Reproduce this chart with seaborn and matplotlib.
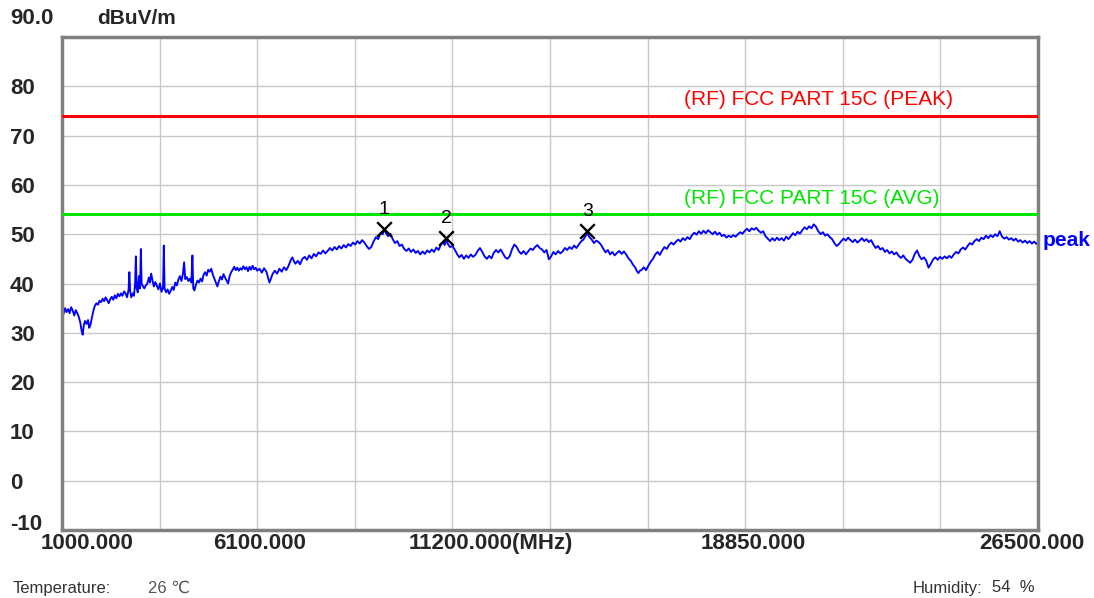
import numpy as np
import pandas as pd
import matplotlib
matplotlib.use("Agg")
import matplotlib.pyplot as plt
import matplotlib.transforms as mtransforms
import seaborn as sns

# --- peak trace (MHz / dBuV/m) ---
freq_a = [1000, 1040, 1080, 1120, 1160, 1200, 1240, 1280, 1320, 1360,
          1400, 1440, 1480, 1510, 1540, 1570, 1600, 1640, 1680, 1710,
          1740, 1780, 1820, 1860, 1900, 1940, 1980, 2020, 2060, 2100,
          2140, 2180, 2220, 2260, 2300, 2340, 2380, 2420, 2460, 2500,
          2540, 2580, 2620, 2660, 2700, 2740, 2760, 2780, 2810, 2850,
          2880, 2910, 2930, 2950, 2980, 3010, 3040, 3060, 3080, 3110,
          3150, 3190, 3230, 3270, 3300, 3330, 3360, 3400, 3440, 3480,
          3520, 3560, 3600, 3640, 3660, 3680, 3720, 3760, 3800, 3840,
          3880, 3920, 3960, 4000, 4040, 4080, 4120, 4160, 4190, 4220,
          4260, 4300, 4340, 4380, 4407, 4430, 4460, 4500, 4540, 4580,
          4620, 4660, 4700, 4740, 4780, 4820, 4860, 4900, 4940, 4980,
          5020, 5060, 5100, 5140, 5180, 5220, 5260, 5300, 5340, 5380,
          5420, 5460, 5500, 5540, 5580, 5620, 5660, 5700, 5740, 5780,
          5820, 5860, 5900, 5940, 5980, 6020, 6060]
level_a = [34.5, 33.8, 35.0, 34.2, 34.8, 34.0, 35.2, 34.5, 33.5, 34.6,
           34.0, 33.2, 32.0, 30.5, 29.6, 31.5, 32.4, 31.8, 32.6, 31.0,
           31.5, 33.0, 34.5, 35.5, 36.0, 35.7, 36.5, 36.2, 36.9, 36.4,
           37.2, 36.6, 36.0, 36.8, 37.3, 36.7, 37.6, 37.0, 37.9, 37.4,
           38.0, 37.5, 38.4, 38.0, 37.2, 38.8, 42.3, 38.5, 37.2, 38.0,
           37.5, 40.0, 45.5, 39.0, 38.2, 41.5, 39.0, 47.0, 40.0, 39.5,
           39.0, 39.6, 40.0, 41.2, 40.2, 42.0, 40.8, 39.4, 40.3, 39.5,
           38.8, 40.0, 38.3, 39.2, 47.7, 39.0, 38.2, 38.8, 37.9, 38.5,
           39.3, 38.7, 40.2, 39.6, 40.8, 41.5, 40.5, 42.0, 44.3, 40.9,
           41.3, 40.5, 41.0, 40.2, 45.7, 39.0, 38.6, 39.8, 40.6, 40.2,
           41.0, 40.4, 41.8, 42.3, 41.6, 42.8, 42.4, 43.0, 41.8, 41.0,
           40.2, 39.4, 40.5, 41.4, 40.8, 41.9, 41.2, 40.6, 40.0, 41.5,
           42.3, 42.8, 43.4, 42.7, 43.2, 42.6, 43.1, 42.8, 43.5, 42.9,
           43.3, 42.5, 43.4, 42.8, 43.6, 42.9, 43.2]

freq_b = [6100, 6160, 6220, 6280, 6340, 6390, 6420, 6450, 6500, 6560,
          6620, 6680, 6740, 6800, 6860, 6920, 6980, 7020, 7060, 7100,
          7160, 7220, 7280, 7340, 7400, 7460, 7520, 7580, 7640, 7700,
          7760, 7820, 7880, 7940, 8000, 8060, 8120, 8180, 8240, 8300,
          8360, 8420, 8480, 8540, 8600, 8660, 8720, 8780, 8840, 8900,
          8960, 9020, 9080, 9140, 9200, 9260, 9320, 9380, 9421, 9460,
          9520, 9580, 9640, 9700, 9760, 9820, 9880, 9940, 10000, 10060,
          10120, 10180, 10240, 10300, 10360, 10420, 10480, 10540, 10600, 10660,
          10720, 10780, 10840, 10900, 10960, 11000, 11037, 11080, 11140]
level_b = [42.6, 43.0, 42.2, 43.1, 42.4, 41.0, 40.2, 40.8, 41.9, 42.6,
           42.0, 43.0, 42.4, 43.3, 42.7, 43.6, 44.8, 45.3, 44.5, 44.0,
           44.6, 43.9, 45.0, 45.4, 44.8, 45.7, 45.1, 46.0, 45.5, 46.3,
           46.0, 46.7, 46.1, 46.6, 47.2, 46.7, 47.4, 46.9, 47.6, 47.1,
           47.8, 47.3, 48.0, 47.6, 48.3, 47.9, 48.6, 48.1, 48.8, 48.3,
           47.6, 47.0, 47.4, 48.5, 49.4, 49.0, 50.2, 50.0, 51.0, 50.3,
           49.6, 50.1, 49.0, 48.2, 48.6, 47.6, 47.9, 47.0, 46.6, 47.1,
           46.4, 46.9, 46.2, 46.6, 45.9, 46.5, 46.0, 46.7, 46.3, 46.9,
           46.4, 47.3, 46.8, 47.9, 48.4, 47.8, 49.2, 48.0, 47.4]

freq_c = [11200, 11260, 11320, 11380, 11440, 11500, 11560, 11620, 11680, 11740,
          11800, 11860, 11920, 11980, 12040, 12100, 12160, 12220, 12280, 12340,
          12400, 12460, 12520, 12580, 12640, 12700, 12760, 12820, 12880, 12940,
          13000, 13060, 13120, 13180, 13240, 13300, 13360, 13420, 13480, 13540,
          13600, 13660, 13720, 13780, 13840, 13900, 13960, 14020, 14080, 14140,
          14200, 14260, 14320, 14380, 14440, 14500, 14560, 14620, 14680, 14728,
          14780, 14840, 14900, 14960, 15020, 15080, 15140, 15200, 15260, 15320,
          15380, 15440, 15500, 15560, 15620, 15680, 15740, 15800, 15860, 15920,
          15980, 16020, 16060, 16100]
level_c = [47.6, 46.9, 46.0, 45.3, 45.8, 45.0, 45.7, 45.2, 45.9, 45.4,
           45.8, 46.6, 47.2, 46.4, 45.5, 45.0, 45.6, 45.1, 46.2, 46.8,
           46.3, 46.9, 46.1, 45.3, 45.0, 45.6, 47.0, 47.9, 47.4, 46.5,
           46.0, 46.6, 45.9, 46.5, 47.1, 46.8, 47.4, 47.8, 47.2, 46.9,
           46.3, 46.8, 44.9, 45.5, 46.4, 45.9, 46.6, 46.1, 46.5, 47.2,
           46.8, 47.4, 47.0, 47.7, 47.2, 47.9, 48.5, 48.9, 49.6, 50.2,
           49.4, 48.9, 48.2, 48.7, 48.4, 47.9, 47.1, 46.3, 46.8, 45.9,
           46.4, 45.7, 46.2, 46.6, 46.0, 46.5, 45.9, 45.1, 44.6, 43.8,
           43.2, 42.5, 42.1, 42.6]

freq_d = [16150, 16200, 16260, 16320, 16380, 16440, 16500, 16560, 16620, 16680,
          16740, 16800, 16860, 16920, 16980, 17040, 17100, 17160, 17220, 17280,
          17340, 17400, 17460, 17520, 17580, 17640, 17700, 17760, 17820, 17880,
          17940, 18000, 18060, 18120, 18180, 18240, 18300, 18360, 18420, 18480,
          18540, 18600, 18660, 18720, 18780, 18840, 18900, 18960, 19020, 19080,
          19140, 19200, 19260, 19320, 19380, 19440, 19500, 19560, 19620, 19680,
          19740, 19800, 19860, 19920, 19980, 20040, 20100, 20160, 20220, 20280,
          20340, 20400, 20460, 20520, 20580, 20640, 20700, 20760, 20820, 20880,
          20940, 21000, 21060, 21120, 21180, 21240, 21300, 21360]
level_d = [42.8, 43.3, 42.7, 43.6, 44.4, 45.0, 45.9, 46.4, 45.8, 46.7,
           47.4, 47.0, 47.8, 48.3, 47.9, 48.5, 48.9, 48.5, 49.2, 48.8,
           49.4, 49.0, 49.8, 50.3, 49.9, 50.6, 50.1, 50.7, 50.2, 50.8,
           50.4, 50.0, 50.5, 49.9, 50.3, 49.6, 49.9, 49.3, 49.7, 49.4,
           49.8, 49.5, 50.0, 50.4, 50.1, 50.7, 51.1, 50.6, 51.2, 50.9,
           51.3, 50.7, 50.3, 50.6, 49.6, 49.1, 48.6, 49.2, 48.7, 49.3,
           48.8, 49.2, 48.7, 49.5, 49.0, 49.6, 50.2, 49.8, 50.5, 50.1,
           50.8, 51.4, 51.0, 51.6, 51.2, 52.0, 51.5, 50.6, 50.0, 50.4,
           49.7, 50.0, 49.4, 49.0, 48.2, 47.6, 48.0, 48.6]

freq_e = [21420, 21480, 21540, 21600, 21660, 21720, 21780, 21840, 21900, 21960,
          22020, 22080, 22140, 22200, 22260, 22320, 22380, 22440, 22500, 22560,
          22620, 22680, 22740, 22800, 22860, 22920, 22980, 23040, 23100, 23160,
          23220, 23280, 23340, 23400, 23460, 23520, 23580, 23640, 23700, 23760,
          23820, 23880, 23940, 24000, 24060, 24120, 24180, 24240, 24300, 24360,
          24420, 24480, 24540, 24600, 24660, 24720, 24780, 24840, 24900, 24960,
          25020, 25080, 25140, 25200, 25260, 25320, 25380, 25440, 25500, 25560,
          25620, 25680, 25740, 25800, 25860, 25920, 25980, 26040, 26100, 26160,
          26220, 26280, 26340, 26400, 26460, 26500]
level_e = [49.1, 48.7, 49.3, 48.8, 48.4, 48.9, 48.3, 48.7, 49.2, 48.6,
           49.0, 48.4, 48.8, 47.9, 47.2, 47.6, 46.9, 47.2, 46.4, 46.8,
           46.1, 46.5, 45.9, 46.3, 45.6, 45.2, 45.7, 45.0, 44.6, 44.2,
           44.8, 46.0, 46.7, 45.6, 44.9, 45.3, 44.6, 43.2, 44.0, 44.9,
           45.3, 44.8, 45.4, 45.0, 45.5, 45.1, 45.6, 45.2, 45.9, 46.4,
           46.1, 46.9, 47.3, 46.9, 47.6, 48.2, 47.9, 48.6, 49.0, 48.6,
           49.3, 49.0, 49.7, 49.2, 49.8, 49.4, 50.0, 49.6, 50.6, 49.5,
           49.1, 49.4, 48.9, 49.2, 48.7, 49.1, 48.5, 48.8, 48.3, 48.7,
           48.2, 48.6, 48.1, 48.5, 48.0, 48.4]

freq_mhz = freq_a + freq_b + freq_c + freq_d + freq_e
level_dbuv = level_a + level_b + level_c + level_d + level_e
assert len(freq_mhz) == len(level_dbuv)

# limit lines
limit_names = ["(RF) FCC PART 15C (PEAK)", "(RF) FCC PART 15C (AVG)"]
limit_levels = [74.0, 54.0]
limit_colors = ["#ff0000", "#00e600"]

# marker readings
marker_ids = ["1", "2", "3"]
marker_freq = [9421, 11037, 14728]
marker_level = [51.0, 49.2, 50.6]

# axes
x_grid = [1000, 3550, 6100, 8650, 11200, 13750, 16300, 18850, 21400, 23950, 26500]
x_labels = ["1000.000", "", "6100.000", "", "11200.000(MHz)", "", "",
            "18850.000", "", "", "26500.000"]
y_ticks = [-10, 0, 10, 20, 30, 40, 50, 60, 70, 80]
y_labels = ["-10", "0", "10", "20", "30", "40", "50", "60", "70", "80"]

sns.set_theme(style="white")
plt.rcParams["font.family"] = ["Liberation Sans", "DejaVu Sans"]

W, H = 1094, 598
fig = plt.figure(figsize=(W / 100, H / 100), dpi=100)
ax = fig.add_axes([62 / W, 1 - 530 / H, (1038 - 62) / W, (530 - 37) / H])

df = pd.DataFrame({"freq": freq_mhz, "level": level_dbuv})
sns.lineplot(data=df, x="freq", y="level", ax=ax, color="#0000ff",
             linewidth=1.35, estimator=None, sort=False, legend=False)

for name, lvl, col in zip(limit_names, limit_levels, limit_colors):
    ax.axhline(lvl, color=col, lw=2.2, zorder=3)
    ax.annotate(name, xy=(17240, lvl), xytext=(0, 5), textcoords="offset points",
                ha="left", va="bottom", color=col, fontsize=15)

ax.scatter(marker_freq, marker_level, marker="x", s=110, color="black",
           linewidths=1.7, zorder=5)
for mid, f, lvl in zip(marker_ids, marker_freq, marker_level):
    ax.annotate(mid, xy=(f, lvl), xytext=(0, 14), textcoords="offset points",
                ha="center", va="center", fontsize=14, color="black")

ax.annotate("peak", xy=(1, 48.8), xycoords=("axes fraction", "data"),
            xytext=(3, 0), textcoords="offset points", ha="left", va="center",
            color="#0000ff", fontsize=15, fontweight="bold")

ax.set_xlim(1000, 26500)
ax.set_ylim(-10, 90)
ax.set_xlabel("")
ax.set_ylabel("")

ax.set_xticks(x_grid, x_labels)
ax.set_yticks(y_ticks, y_labels)
ax.grid(True, color="#c8c8c8", lw=1)
ax.tick_params(axis="x", length=0, pad=2, labelsize=16)
ax.tick_params(axis="y", length=0, pad=37.4, labelsize=16)

# per-label nudges so the labels sit where the analyser put them
x_shift = [18.4, 0, 1.5, 0, -31.5, 0, 0, 6, 0, 0, -4.7]
for lab, dx in zip(ax.get_xticklabels(), x_shift):
    lab.set_fontweight("bold")
    lab.set_transform(lab.get_transform() +
                      mtransforms.ScaledTranslation(dx / 72, 0, fig.dpi_scale_trans))
ax.get_xticklabels()[4].set_ha("left")
for lab in ax.get_yticklabels():
    lab.set_fontweight("bold")
    lab.set_ha("left")
ax.get_yticklabels()[0].set_va("baseline")

for sp in ax.spines.values():
    sp.set_color("#808080")
    sp.set_linewidth(2.5)

fig.text(10 / W, 1 - 18 / H, "90.0", ha="left", va="center",
         fontsize=16, fontweight="bold")
fig.text(97 / W, 1 - 18 / H, "dBuV/m", ha="left", va="center",
         fontsize=15, fontweight="bold")

fig.text(13 / W, 1 - 588 / H, "Temperature:", ha="left", va="center",
         fontsize=12, color="#333333")
fig.text(148 / W, 1 - 588 / H, "26 \u2103", ha="left", va="center",
         fontsize=12, color="#555555")
fig.text(913 / W, 1 - 588 / H, "Humidity:", ha="left", va="center",
         fontsize=12, color="#333333")
fig.text(992 / W, 1 - 588 / H, "54  %", ha="left", va="center",
         fontsize=12, color="#333333")

fig.savefig("out.png", dpi=100, facecolor="white")
